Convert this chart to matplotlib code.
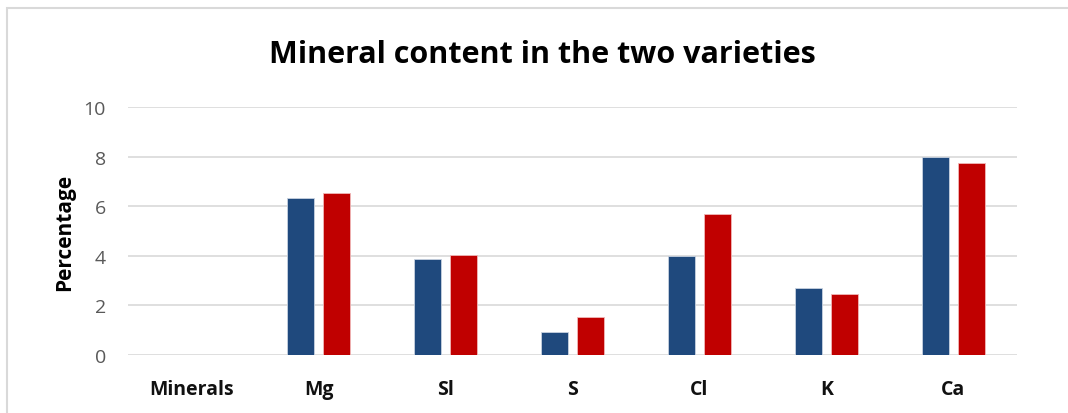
import numpy as np
import matplotlib.pyplot as plt
from matplotlib.patches import Rectangle

categories = ['Minerals', 'Mg', 'Sl', 'S', 'Cl', 'K', 'Ca']
variety_1 = [np.nan, 6.33, 3.89, 0.94, 4.0, 2.71, 7.97]
variety_2 = [np.nan, 6.55, 4.05, 1.52, 5.70, 2.46, 7.73]
yticks = [0, 2, 4, 6, 8, 10]

plt.rcParams['font.family'] = ['Open Sans', 'DejaVu Sans']

fig = plt.figure(figsize=(10.68, 4.14), dpi=100)
ax = fig.add_axes([128 / 1068, 58 / 414, 889 / 1068, 248 / 414])

x = np.arange(len(categories))
w = 0.22
off = 0.1415
ax.bar(x - off, variety_1, w, color='#1F497D', edgecolor='#c8d2e0', linewidth=0.6, zorder=3)
ax.bar(x + off, variety_2, w, color='#C00000', edgecolor='#f0b8b8', linewidth=0.6, zorder=3)

ax.set_xlim(-0.5, len(categories) - 0.5)
ax.set_ylim(0, 10)
ax.set_yticks(yticks)
ax.set_yticklabels([str(t) for t in yticks], color='#595959', fontsize=14)
ax.set_xticks(x)
ax.set_xticklabels(categories, fontweight='bold', fontsize=14, color='#111111')
ax.tick_params(axis='both', length=0)
ax.tick_params(axis='y', pad=16)
ax.tick_params(axis='x', pad=17)
ax.grid(axis='y', color='#D9D9D9', linewidth=1.2, zorder=0)
for s in ax.spines.values():
    s.set_visible(False)

ax.set_ylabel('Percentage', fontweight='bold', fontsize=15, labelpad=6)
fig.text(0.508, 0.867, 'Mineral content in the two varieties', ha='center', va='center',
         fontsize=22, fontweight='bold')

fig.patches.append(Rectangle((7 / 1068, -0.1), 1.2, (414 - 9) / 414 + 0.1,
                             transform=fig.transFigure, fill=False,
                             edgecolor='#D9D9D9', linewidth=1.5))

fig.savefig('out.png', dpi=100)
